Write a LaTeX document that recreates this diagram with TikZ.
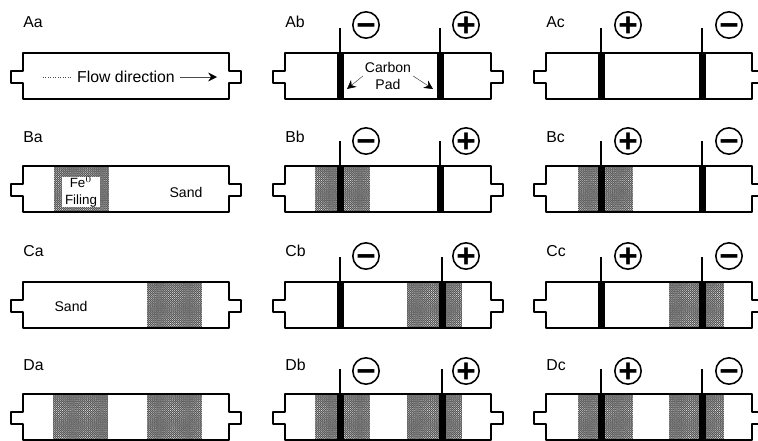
\documentclass[tikz,border=0pt]{standalone}
\usepackage{fontspec}
\setmainfont{Liberation Sans}
\usetikzlibrary{arrows.meta,patterns,shapes.geometric}
\newcommand{\signtext}[1]{\raisebox{-.34em}[0pt][0pt]{\bfseries #1}}
\pgfdeclarepatternformonly{finegrain}{\pgfqpoint{-0.2pt}{-0.2pt}}{\pgfqpoint{1.3pt}{1.3pt}}{\pgfqpoint{1.1pt}{1.1pt}}{
  \pgfpathcircle{\pgfqpoint{0.3pt}{0.3pt}}{0.24pt}
  \pgfpathcircle{\pgfqpoint{0.85pt}{0.85pt}}{0.16pt}
  \pgfusepath{fill}
}
\tikzset{
  tag/.style={anchor=west,inner sep=0pt,font=\fontsize{9}{10}\selectfont},
  note/.style={inner sep=1pt,align=center,font=\fontsize{8}{9.5}\selectfont},
  column/.style={draw=black,line width=0.9pt,line join=round},
  filing/.style={fill=black!68,postaction={pattern=finegrain,pattern color=white}},
  lead/.style={line width=1.4pt,draw=black},
  pad/.style={fill=black},
  signbox/.style={circle,draw=black,line width=0.9pt,minimum size=15pt,inner sep=0pt,font=\fontsize{19}{19}\selectfont},
  pointer/.style={draw=black!70,line width=0.3pt,-{Stealth[length=5pt,width=5pt,black]}}
}

\begin{document}
\begin{tikzpicture}[x=0.02cm,y=-0.02cm]
  \useasboundingbox (0,0) rectangle (758,440);

  % --- filled zones first, the column outline goes over them ---------------
  \foreach \zx/\zy in {54/166,147/282,53/394,147/394,
                       315/166,407/282,315/394,407/394,
                       578/166,669/282,578/394,669/394} {
    \path[filing] (\zx,\zy) rectangle ++(55,46);
  }

  % --- columns: a, b, c across, four rows down ------------------------------
  \foreach \cx/\cn in {23/a,285/b,546/c} {
    \foreach \ry/\rn/\ly in {53/A/22,166/B/137,282/C/251,394/D/365} {
      \draw[column] (\cx,\ry) -- ++(206,0) -- ++(0,18) -- ++(12,0) -- ++(0,12) -- ++(-12,0)
        -- ++(0,16) -- ++(-206,0) -- ++(0,-16) -- ++(-12,0) -- ++(0,-12) -- ++(12,0) -- cycle;
      \node[tag] (tag\rn\cn) at (\cx,\ly) {\rn\cn};
    }
  }

  % --- electrodes and signs of column b and c -------------------------------
  \foreach \ry/\rn/\sy/\ex in {53/A/25/440,166/B/141/440,282/C/256/442,394/D/371/442} {
    \draw[lead] (340,\ry-25) -- (340,\ry);
    \draw[lead] (\ex,\ry-25) -- (\ex,\ry);
    \fill[pad] (337,\ry) rectangle ++(7,46);
    \fill[pad] (\ex-3,\ry) rectangle ++(7,46);
    \node[signbox] (minus\rn b) at (366,\sy) {\signtext{−}};
    \node[signbox] (plus\rn b) at (466,\sy) {\signtext{+}};

    \draw[lead] (601,\ry-25) -- (601,\ry);
    \draw[lead] (702,\ry-25) -- (702,\ry);
    \fill[pad] (598,\ry) rectangle ++(7,46);
    \fill[pad] (699,\ry) rectangle ++(7,46);
    \node[signbox] (plus\rn c) at (628,\sy) {\signtext{+}};
    \node[signbox] (minus\rn c) at (729,\sy) {\signtext{−}};
  }

  % --- flow direction in Aa -------------------------------------------------
  \node[note,font=\fontsize{9}{10}\selectfont,inner sep=3pt] (flowtext) at (126,77) {Flow direction};
  \coordinate (flowtail) at (43,77);
  \coordinate (flowhead) at (217,77);
  \draw[black!70,line width=0.4pt,densely dotted] (flowtail) -- (flowtext);
  \draw[pointer] (flowtext) -- (flowhead);

  % --- carbon pad in Ab -----------------------------------------------------
  \node[note] (padtext) at (388,76) {Carbon\\Pad};
  \coordinate (padleft) at (347,89);
  \coordinate (padright) at (433,89);
  \draw[pointer] (padtext.west) -- (padleft);
  \draw[pointer] (padtext.east) -- (padright);

  % --- fill labels ----------------------------------------------------------
  \node[note,fill=white,font=\fontsize{7.6}{9.5}\selectfont,minimum width=22pt,minimum height=17pt,inner sep=0pt] (fetext) at (81,192) {Fe$^{0}$\\Filing};
  \node[note] (sandB) at (186,192) {Sand};
  \node[note] (sandC) at (71,306) {Sand};
\end{tikzpicture}
\end{document}
